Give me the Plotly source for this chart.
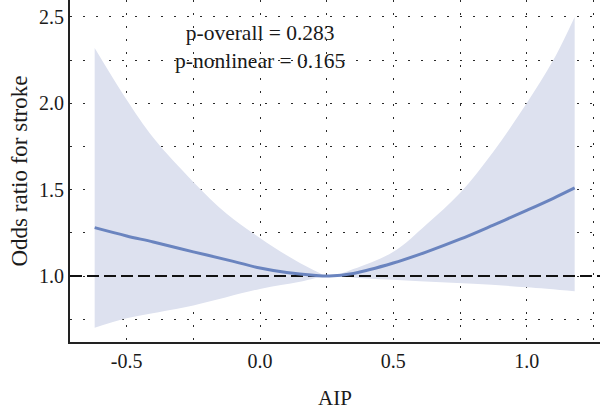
import plotly.graph_objects as go

# Data
aip_curve = [-0.62, -0.5, -0.4, -0.25, -0.1, 0.0, 0.1, 0.2, 0.26, 0.35, 0.5, 0.625, 0.75, 0.875, 1.0, 1.1, 1.18]
or_curve = [1.28, 1.232, 1.197, 1.14, 1.085, 1.046, 1.02, 1.004, 1.0, 1.015, 1.075, 1.14, 1.213, 1.295, 1.38, 1.45, 1.51]

aip_upper = [-0.62, -0.5, -0.4, -0.25, -0.125, 0.0, 0.1, 0.2, 0.26, 0.35, 0.5, 0.625, 0.75, 0.875, 1.0, 1.1, 1.18]
or_upper = [2.32, 2.02, 1.80, 1.545, 1.36, 1.22, 1.12, 1.035, 1.0, 1.04, 1.14, 1.30, 1.48, 1.72, 2.0, 2.25, 2.5]

aip_lower = [-0.62, -0.5, -0.25, 0.0, 0.15, 0.26, 0.4, 0.6, 0.8, 1.0, 1.18]
or_lower = [0.70, 0.755, 0.83, 0.925, 0.967, 1.0, 0.985, 0.97, 0.955, 0.935, 0.912]

x_ticks = [-0.5, 0.0, 0.5, 1.0]
x_ticklabels = ["-0.5", "0.0", "0.5", "1.0"]
y_ticks = [1.0, 1.5, 2.0, 2.5]
y_ticklabels = ["1.0", "1.5", "2.0", "2.5"]

p_text = "p-overall = 0.283<br>p-nonlinear = 0.165"

FONT = "Liberation Serif"
TXT = "#1a1a1a"
band_color = "rgba(221,225,239,1)"
line_color = "#6a84bf"

fig = go.Figure()

# CI band: lower bound, then upper bound filled to it
fig.add_trace(go.Scatter(x=aip_lower, y=or_lower, mode="lines",
                         line=dict(width=0, shape="spline", color=band_color),
                         hoverinfo="skip", showlegend=False))
fig.add_trace(go.Scatter(x=aip_upper, y=or_upper, mode="lines", fill="tonexty", fillcolor=band_color,
                         line=dict(width=0, shape="spline", color=band_color),
                         hoverinfo="skip", showlegend=False))

# reference line at OR = 1
fig.add_trace(go.Scatter(x=[-0.7125, 1.275], y=[1.0, 1.0], mode="lines",
                         line=dict(color="#111111", width=1.8, dash="12px,5px"),
                         showlegend=False, hoverinfo="skip"))

# curve
fig.add_trace(go.Scatter(x=aip_curve, y=or_curve, mode="lines",
                         line=dict(color=line_color, width=3, shape="spline"),
                         showlegend=False))

grid_dash = "1.5px,11.5px"
gridc = "#2a2a2a"
gw = 1.4
fig.update_xaxes(
    range=[-0.7125, 1.275], tickvals=x_ticks, ticktext=x_ticklabels,
    showgrid=True, gridcolor=gridc, gridwidth=gw, griddash=grid_dash,
    minor=dict(dtick=0.25, tick0=0, showgrid=True, gridcolor=gridc, gridwidth=gw, griddash=grid_dash),
    showline=True, linecolor="#222222", linewidth=2, ticks="", zeroline=False,
    tickfont=dict(family=FONT, size=20, color=TXT),
    title=dict(text="AIP", font=dict(family=FONT, size=21, color=TXT), standoff=19),
)
fig.update_yaxes(
    range=[0.618, 2.598], tickvals=y_ticks, ticktext=y_ticklabels,
    showgrid=True, gridcolor=gridc, gridwidth=gw, griddash=grid_dash,
    minor=dict(dtick=0.25, tick0=0, showgrid=True, gridcolor=gridc, gridwidth=gw, griddash=grid_dash),
    showline=True, linecolor="#222222", linewidth=2, ticks="", zeroline=False,
    tickfont=dict(family=FONT, size=20, color=TXT),
    title=dict(text="Odds ratio for stroke", font=dict(family=FONT, size=23, color=TXT), standoff=5),
)

fig.add_annotation(x=0.0, y=2.325, xref="x", yref="y", text=p_text, showarrow=False,
                   font=dict(family=FONT, size=21.5, color=TXT), align="center")

fig.update_layout(
    width=600, height=412, margin=dict(l=70, r=0, t=0, b=70),
    plot_bgcolor="white", paper_bgcolor="white",
)

fig.write_html("out.html")
